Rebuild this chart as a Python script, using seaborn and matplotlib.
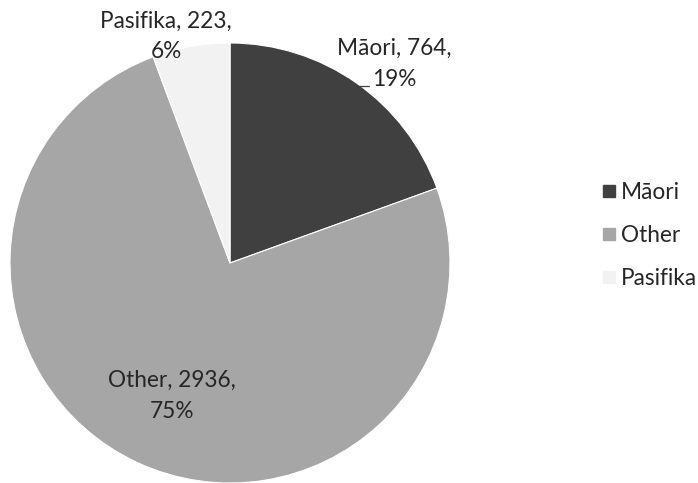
import matplotlib
matplotlib.use("Agg")
import matplotlib.pyplot as plt
import seaborn as sns
from matplotlib.lines import Line2D

# data
groups = ["Māori", "Other", "Pasifika"]
counts = [764, 2936, 223]
percents = ["19%", "75%", "6%"]
colours = ["#404040", "#a6a6a6", "#f2f2f2"]

sns.set_theme(style="white")
plt.rcParams['font.family'] = ['Lato', 'DejaVu Sans']

fig = plt.figure(figsize=(6.98, 4.83), dpi=100)
ax = fig.add_axes([10/698, 0.0, 440/698, 440/483])

wedges, _ = ax.pie(counts, colors=colours, startangle=90, counterclock=False,
                   radius=1, wedgeprops=dict(edgecolor="white", linewidth=0.8))
ax.set_xlim(-1, 1)
ax.set_ylim(-1, 1)
ax.set_aspect("equal")
ax.axis("off")

# label positions (data coords, centre of pie = 0,0)
label_pos = [(0.745, 0.905), (-0.262, -0.605), (-0.291, 1.03)]
for g, c, p, (x, y) in zip(groups, counts, percents, label_pos):
    ax.text(x, y, f"{g}, {c},\n{p}", ha="center", va="center",
            fontsize=16.3, color="#262626", linespacing=1.58, clip_on=False)

# short leader line for Māori label
ax.plot([(359-230)/220, (369-230)/220], [(263-86)/220, (263-86)/220],
        color="#404040", lw=0.9, clip_on=False)

handles = [Line2D([0], [0], marker="s", linestyle="none", markersize=9,
                  markerfacecolor=col, markeredgecolor=col) for col in colours]
fig.legend(handles, groups, loc="center left", bbox_to_anchor=(577/698, 1 - 235.5/483),
           frameon=False, fontsize=16.3, labelspacing=0.96, handletextpad=0.05,
           handlelength=1.0, labelcolor="#262626")

fig.savefig("out.png", dpi=100)
